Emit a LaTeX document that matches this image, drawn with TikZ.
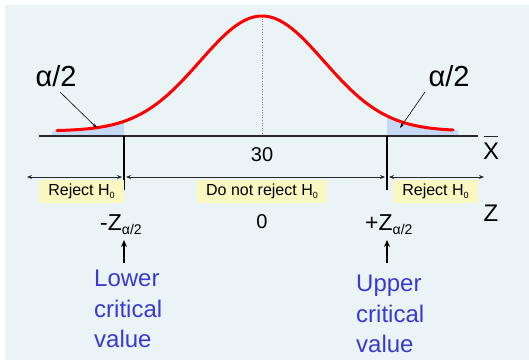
\documentclass[tikz,border=0pt]{standalone}
\usepackage{fontspec}
\setmainfont{Liberation Sans}
\usetikzlibrary{arrows.meta}
\definecolor{bgcol}{RGB}{234,244,247}
\definecolor{shadecol}{RGB}{197,217,245}
\definecolor{boxcol}{RGB}{250,248,192}
\definecolor{bluetxt}{RGB}{58,58,208}
\definecolor{axiscol}{RGB}{40,40,40}
\tikzset{
  ybox/.style={fill=boxcol, minimum height=23pt, inner sep=0pt, font=\fontsize{16}{16}\selectfont},
  bigtxt/.style={inner sep=0pt, font=\fontsize{24}{24}\selectfont},
  midtxt/.style={inner sep=0pt, font=\fontsize{20}{20}\selectfont},
  alphatxt/.style={inner sep=0pt, font=\fontsize{29}{29}\selectfont},
  crittxt/.style={inner sep=0pt, align=left, text=bluetxt, font=\fontsize{24}{30.5}\selectfont},
  ztxt/.style={inner sep=0pt, font=\fontsize{23}{23}\selectfont},
  dimarrow/.style={{Stealth[length=5pt,width=4pt]}-{Stealth[length=5pt,width=4pt]}, line width=0.8pt, axiscol},
  uparrow/.style={-{Stealth[length=7pt,width=6pt]}, line width=1.4pt, black},
  leader/.style={-{Stealth[length=5pt,width=3pt]}, line width=0.6pt, black},
  critline/.style={line width=1.1pt, black}
}
\newcommand{\hsub}{\raisebox{-0.35ex}{\fontsize{9}{9}\selectfont 0}}
\newcommand{\asub}{\raisebox{-4pt}{\fontsize{14}{14}\selectfont α/2}}
\begin{document}
\begin{tikzpicture}[x=1pt,y=-1pt,
  declare function={f(\x)=131-115*exp(-0.5*((\x-262)/62)^2);}]
\useasboundingbox (0,0) rectangle (529,361);
\fill[white] (0,0) rectangle (529,361);
\fill[bgcol] (5,5) rectangle (529,360);
% shaded tails
\fill[shadecol] (52,136) -- plot[domain=52:124, samples=30] (\x,{f(\x)}) -- (124,136) -- cycle;
\fill[shadecol] (387,136) -- plot[domain=387:458, samples=30] (\x,{f(\x)}) -- (458,136) -- cycle;
% coordinates
\coordinate (axL) at (39,136);
\coordinate (axR) at (478,136);
\coordinate (peak) at (262,{f(262)});
\coordinate (mid) at (262,136);
\coordinate (cL) at (124,136);
\coordinate (cLb) at (124,190);
\coordinate (cR) at (387,136);
\coordinate (cRb) at (387,190);
% center dotted line
\draw[dotted, gray, line width=0.6pt] (peak) -- (mid);
% axis
\draw[line width=1.2pt, axiscol] (axL) -- (axR);
% curve
\draw[red, line width=3pt, line cap=round] plot[domain=57:453, samples=120, smooth] (\x,{f(\x)});
% critical lines
\draw[critline] (cL) -- (cLb);
\draw[critline] (cR) -- (cRb);
% region arrows
\coordinate (arL) at (27,177);
\coordinate (arL2) at (122,177);
\coordinate (arM1) at (126,177);
\coordinate (arM2) at (385,177);
\coordinate (arR1) at (389,177);
\coordinate (arR) at (484,177);
\draw[dimarrow] (arL) -- (arL2);
\draw[dimarrow] (arM1) -- (arM2);
\draw[dimarrow] (arR1) -- (arR);
% boxes
\node[ybox, minimum width=85pt] (rejL) at (81.5,191.5) {Reject H\hsub};
\node[ybox, minimum width=130pt] (norej) at (262,191.5) {Do not reject H\hsub};
\node[ybox, minimum width=85pt] (rejR) at (435.5,191.5) {Reject H\hsub};
% labels
\node[midtxt] (thirty) at (262,155) {30};
\node[midtxt] (zero) at (262,222) {0};
\node[bigtxt] (xbar) at (491,151) {X};
\draw[line width=0.9pt, axiscol] (484,136) -- (498,136);
\node[bigtxt] (zlab) at (491,213) {Z};
% alpha labels
\node[alphatxt] (aL) at (56,76) {α/2};
\node[alphatxt] (aR) at (449,76) {α/2};
\coordinate (tipL) at (97,128);
\coordinate (tipR) at (400,128);
\draw[leader] (60,92) -- (tipL);
\draw[leader] (425,92) -- (tipR);
% z critical labels
\node[ztxt, anchor=base west] (zL) at (100,230) {-Z\asub};
\node[ztxt, anchor=base west] (zR) at (365,230) {+Z\asub};
% up arrows
\coordinate (upL) at (124,263);
\coordinate (upR) at (387,263);
\draw[uparrow] (upL) -- (124,240);
\draw[uparrow] (upR) -- (387,240);
% critical value text
\node[crittxt, anchor=north west] (lowtxt) at (94,270) {Lower\\critical\\value};
\node[crittxt, anchor=north west] (uptxt) at (356,275) {Upper\\critical\\value};
\end{tikzpicture}
\end{document}
